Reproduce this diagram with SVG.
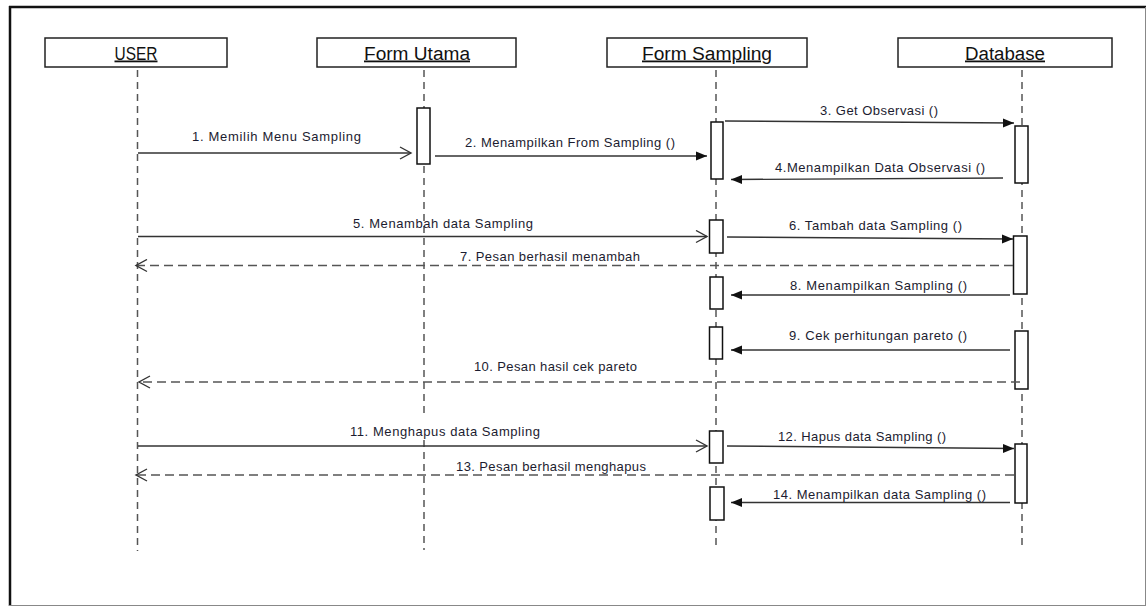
<svg xmlns="http://www.w3.org/2000/svg" width="1147" height="607" viewBox="0 0 1147 607">
<style>
.hdr{fill:#fff;stroke:#222;stroke-width:1.5}
.htxt{font-family:"Liberation Sans",Arial,sans-serif;font-size:18px;fill:#111;text-anchor:middle;text-decoration:underline}
.life{stroke:#555;stroke-width:1.5;stroke-dasharray:7 5;fill:none}
.act{fill:#fff;stroke:#111;stroke-width:1.5}
.msg{stroke:#333;stroke-width:1.4;fill:none}
.ret{stroke:#555;stroke-width:1.5;stroke-dasharray:9 5;fill:none}
.lbl{font-family:"Liberation Sans",Arial,sans-serif;font-size:13px;fill:#1c1c30}
</style>
<defs>
<marker id="fa" markerUnits="userSpaceOnUse" markerWidth="12" markerHeight="10" refX="11" refY="5" orient="auto">
<path d="M0,0.5 L11,5 L0,9.5 z" fill="#111"/>
</marker>
<marker id="oa" markerUnits="userSpaceOnUse" markerWidth="14" markerHeight="14" refX="12" refY="7" orient="auto">
<path d="M1,1 L12,7 L1,13" fill="none" stroke="#333" stroke-width="1.4"/>
</marker>
</defs>
<rect x="0" y="0" width="1147" height="607" fill="#fff"/>
<g id="frame">
<line x1="9" y1="7" x2="1146" y2="7" stroke="#111" stroke-width="2.5"/>
<line x1="10" y1="6" x2="10" y2="606" stroke="#111" stroke-width="2.5"/>
<line x1="1145.5" y1="7" x2="1145.5" y2="606" stroke="#888" stroke-width="1"/>
<line x1="9" y1="605.5" x2="1146" y2="605.5" stroke="#888" stroke-width="1"/>
</g>
<g id="user">
<rect class="hdr" x="45" y="38" width="182" height="29"/>
<text class="htxt" x="136" y="59.5" textLength="43" lengthAdjust="spacingAndGlyphs">USER</text>
<line class="life" x1="137.5" y1="70" x2="137.5" y2="551"/>
</g>
<g id="form-utama">
<rect class="hdr" x="317" y="38" width="199" height="29"/>
<text class="htxt" x="417" y="59.5" textLength="106" lengthAdjust="spacingAndGlyphs">Form Utama</text>
<line class="life" x1="424" y1="70" x2="424" y2="415"/>
<line class="life" x1="424" y1="440" x2="424" y2="550"/>
<rect class="act" x="417" y="108" width="13" height="56"/>
</g>
<g id="form-sampling">
<rect class="hdr" x="607" y="38" width="200" height="29"/>
<text class="htxt" x="707" y="59.5" textLength="130" lengthAdjust="spacingAndGlyphs">Form Sampling</text>
<line class="life" x1="716" y1="70" x2="716" y2="550"/>
<rect class="act" x="711" y="122" width="12" height="57"/>
<rect class="act" x="709.5" y="220" width="13.5" height="33"/>
<rect class="act" x="710" y="277" width="13" height="32"/>
<rect class="act" x="709.5" y="327" width="13" height="32"/>
<rect class="act" x="709.5" y="431" width="13.5" height="32"/>
<rect class="act" x="710" y="487" width="14" height="33"/>
</g>
<g id="database">
<rect class="hdr" x="898" y="38" width="214" height="29"/>
<text class="htxt" x="1005" y="59.5" textLength="80" lengthAdjust="spacingAndGlyphs">Database</text>
<line class="life" x1="1022" y1="70" x2="1022" y2="547"/>
<rect class="act" x="1015" y="126" width="13" height="57"/>
<rect class="act" x="1013.5" y="236" width="13.5" height="58"/>
<rect class="act" x="1015" y="331" width="13" height="58"/>
<rect class="act" x="1015" y="444" width="12" height="59"/>
</g>
<g id="connectors">
<line class="msg" x1="138" y1="153" x2="411" y2="153" marker-end="url(#oa)"/>
<line class="msg" x1="435" y1="156" x2="707" y2="156" marker-end="url(#fa)"/>
<line class="msg" x1="725" y1="121" x2="1014" y2="123" marker-end="url(#fa)"/>
<line class="msg" x1="1003" y1="178" x2="731" y2="179.5" marker-end="url(#fa)"/>
<line class="msg" x1="138" y1="236.5" x2="707" y2="236.5" marker-end="url(#oa)"/>
<line class="msg" x1="727" y1="237" x2="1013" y2="239" marker-end="url(#fa)"/>
<line class="ret" x1="1013" y1="265.5" x2="136" y2="265.5" marker-end="url(#oa)"/>
<line class="msg" x1="1010" y1="295" x2="731" y2="295" marker-end="url(#fa)"/>
<line class="msg" x1="1010" y1="350" x2="731" y2="350" marker-end="url(#fa)"/>
<line class="ret" x1="1020" y1="382" x2="139" y2="382" marker-end="url(#oa)"/>
<line class="msg" x1="138" y1="446" x2="707" y2="446" marker-end="url(#oa)"/>
<line class="msg" x1="727" y1="446" x2="1014" y2="448.5" marker-end="url(#fa)"/>
<line class="ret" x1="1014" y1="475" x2="136" y2="475" marker-end="url(#oa)"/>
<line class="msg" x1="1010" y1="502.5" x2="731" y2="502.5" marker-end="url(#fa)"/>
</g>
<g id="labels">
<text class="lbl" x="192" y="141" textLength="169" lengthAdjust="spacing">1. Memilih Menu Sampling</text>
<text class="lbl" x="465" y="146.5" textLength="210" lengthAdjust="spacing">2. Menampilkan From Sampling ()</text>
<text class="lbl" x="820" y="115" textLength="118" lengthAdjust="spacing">3. Get Observasi ()</text>
<text class="lbl" x="775" y="172" textLength="210" lengthAdjust="spacing">4.Menampilkan Data Observasi ()</text>
<text class="lbl" x="353" y="228" textLength="180" lengthAdjust="spacing">5. Menambah data Sampling</text>
<text class="lbl" x="789" y="230" textLength="173" lengthAdjust="spacing">6. Tambah data Sampling ()</text>
<text class="lbl" x="460" y="260.5" textLength="180" lengthAdjust="spacing">7. Pesan berhasil menambah</text>
<text class="lbl" x="790" y="290" textLength="177" lengthAdjust="spacing">8. Menampilkan Sampling ()</text>
<text class="lbl" x="789" y="340" textLength="178" lengthAdjust="spacing">9. Cek perhitungan pareto ()</text>
<text class="lbl" x="474" y="371" textLength="163" lengthAdjust="spacing">10. Pesan hasil cek pareto</text>
<text class="lbl" x="350" y="435.5" textLength="190" lengthAdjust="spacing">11. Menghapus data Sampling</text>
<text class="lbl" x="778" y="440.5" textLength="168" lengthAdjust="spacing">12. Hapus data Sampling ()</text>
<text class="lbl" x="456" y="471" textLength="190" lengthAdjust="spacing">13. Pesan berhasil menghapus</text>
<text class="lbl" x="773" y="499" textLength="213" lengthAdjust="spacing">14. Menampilkan data Sampling ()</text>
</g>
</svg>
